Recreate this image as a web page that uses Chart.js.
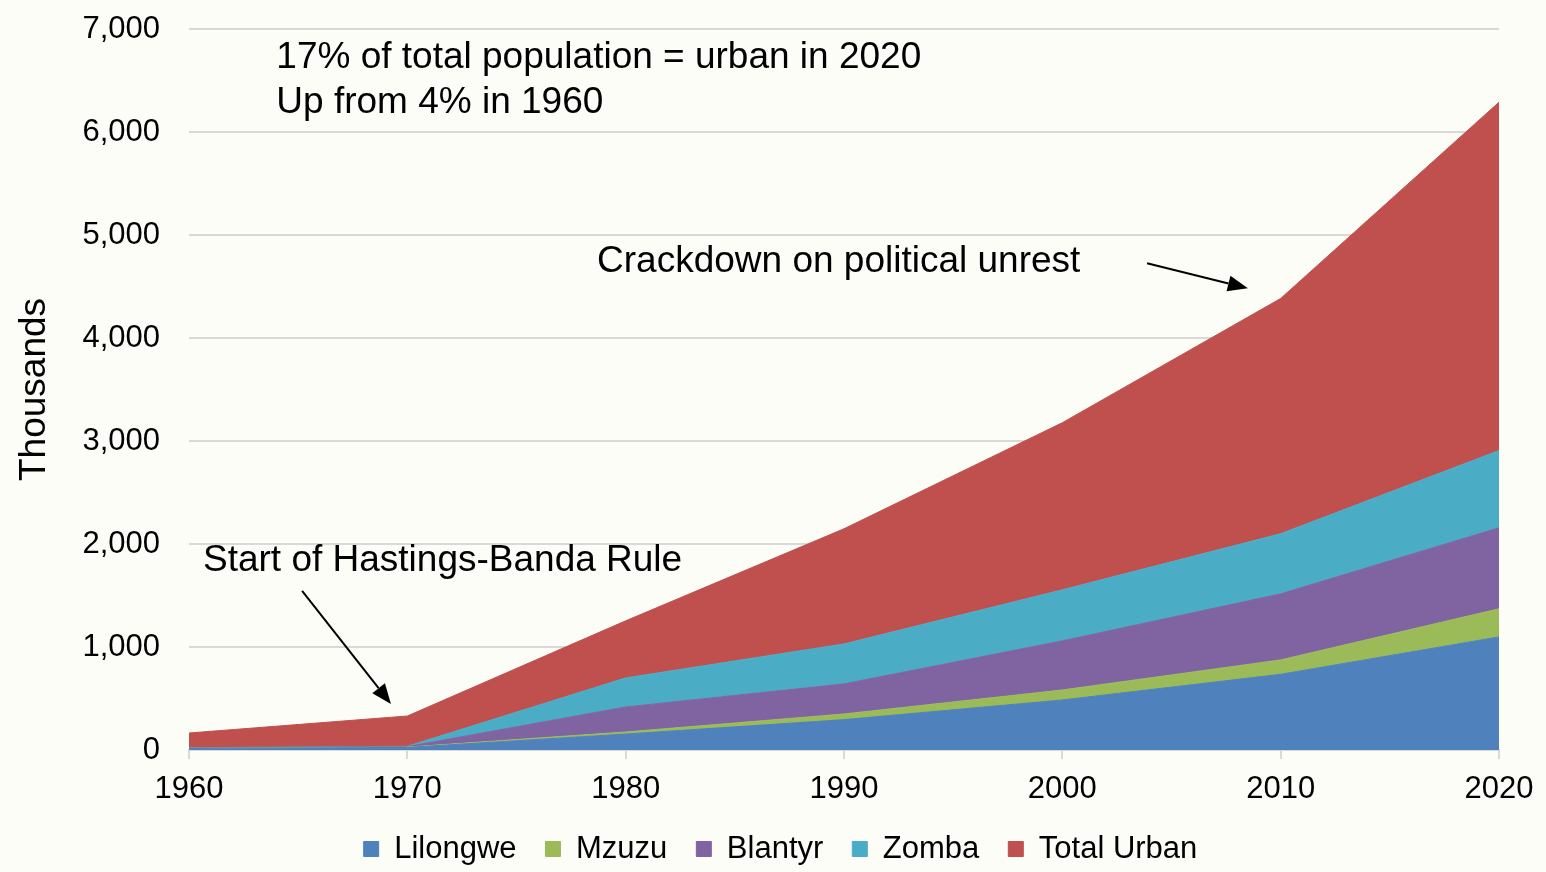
<!DOCTYPE html>
<html>
<head>
<meta charset="utf-8">
<script src="https://cdn.jsdelivr.net/npm/chart.js@4.4.1/dist/chart.umd.min.js"></script>
<style>
    html, body { margin: 0; padding: 0; background: #fdfdf8; }
    #wrap { width: 1546px; height: 872px; }
</style>
</head>
<body>
<div id="wrap"><canvas id="urbanChart" width="1546" height="872"></canvas></div>
<script>
// values in thousands
const years = ['1960', '1970', '1980', '1990', '2000', '2010', '2020'];
const lilongwe = [15, 25, 155, 295, 486, 735, 1098];
const mzuzu = [2, 3, 20, 55, 97, 140, 273];
const blantyr = [3, 5, 243, 292, 477, 641, 787];
const zomba = [2, 3, 282, 388, 495, 584, 749];
const totalUrban = [143, 294, 554, 1118, 1623, 2284, 3383];
const yTicks = [0, 1000, 2000, 3000, 4000, 5000, 6000, 7000];

const FONT = "'Liberation Sans', Arial, sans-serif";

// annotation anchors in data units (x = category index, y = thousands)
const notes = [
    {text: '17% of total population = urban in 2020', x: 0.4, y: 6718},
    {text: 'Up from 4% in 1960', x: 0.4, y: 6280},
    {text: 'Crackdown on political unrest', x: 1.869, y: 4735},
    {text: 'Start of Hastings-Banda Rule', x: 0.064, y: 1837}
];
const arrows = [
    {from: [4.388, 4725], to: [4.85, 4482]},
    {from: [0.518, 1546], to: [0.925, 447]}
];

function area(label, data, color, fill) {
    return {
        label: label,
        data: data,
        backgroundColor: color,
        borderColor: color,
        borderWidth: 1,
        pointRadius: 0,
        pointHoverRadius: 0,
        tension: 0,
        fill: fill
    };
}

const notesPlugin = {
    id: 'notes',
    afterLayout(chart) {
        // legend sits a little right of where chart.js centres it
        chart.legend.left += 31;
        chart.legend.right += 31;
    },
    afterDatasetsDraw(chart) {
        const ctx = chart.ctx;
        const xs = chart.scales.x, ys = chart.scales.y;
        const px = v => xs.left + (xs.right - xs.left) * v / (years.length - 1);
        ctx.save();
        ctx.fillStyle = '#000';
        ctx.font = '37px ' + FONT;
        ctx.textBaseline = 'middle';
        ctx.textAlign = 'left';
        notes.forEach(n => ctx.fillText(n.text, px(n.x), ys.getPixelForValue(n.y)));

        ctx.strokeStyle = '#000';
        ctx.lineWidth = 2;
        arrows.forEach(a => {
            const x1 = px(a.from[0]), y1 = ys.getPixelForValue(a.from[1]);
            const x2 = px(a.to[0]), y2 = ys.getPixelForValue(a.to[1]);
            const ang = Math.atan2(y2 - y1, x2 - x1);
            const len = 20, half = 8;
            const bx = x2 - len * Math.cos(ang), by = y2 - len * Math.sin(ang);
            ctx.beginPath();
            ctx.moveTo(x1, y1);
            ctx.lineTo(bx, by);
            ctx.stroke();
            ctx.beginPath();
            ctx.moveTo(x2, y2);
            ctx.lineTo(bx + half * Math.sin(ang), by - half * Math.cos(ang));
            ctx.lineTo(bx - half * Math.sin(ang), by + half * Math.cos(ang));
            ctx.closePath();
            ctx.fill();
        });
        ctx.restore();
    }
};

const ctx = document.getElementById('urbanChart');
new Chart(ctx, {
    type: 'line',
    data: {
        labels: years,
        datasets: [
            area('Lilongwe', lilongwe, '#4f81bd', 'origin'),
            area('Mzuzu', mzuzu, '#9bbb59', '-1'),
            area('Blantyr', blantyr, '#8064a2', '-1'),
            area('Zomba', zomba, '#4bacc6', '-1'),
            area('Total Urban', totalUrban, '#c0504d', '-1')
        ]
    },
    options: {
        responsive: false,
        animation: false,
        devicePixelRatio: 1,
        layout: {
            padding: {top: 29, left: 0, right: 47, bottom: -2.5}
        },
        scales: {
            x: {
                offset: false,
                grid: {
                    offset: false,
                    drawOnChartArea: false,
                    drawTicks: true,
                    tickLength: 9,
                    color: '#d9d9d9',
                    lineWidth: 2
                },
                border: {display: true, color: '#d9d9d9', width: 2},
                ticks: {
                    color: '#000',
                    font: {family: FONT, size: 31},
                    padding: 12,
                    maxRotation: 0,
                    autoSkip: false
                },
                afterFit(scale) { scale.height = 54.5; }
            },
            y: {
                stacked: true,
                min: 0,
                max: 7000,
                afterBuildTicks(scale) { scale.ticks = yTicks.map(v => ({value: v})); },
                // invisible tick marks give the label gap without padding the top
                grid: {color: '#d9d9d9', lineWidth: 2, drawTicks: true, tickLength: 27, tickColor: 'rgba(0,0,0,0)'},
                border: {display: false},
                ticks: {
                    color: '#000',
                    font: {family: FONT, size: 31},
                    padding: 2,
                    callback: v => v.toLocaleString('en-US')
                },
                title: {
                    display: true,
                    text: 'Thousands',
                    color: '#000',
                    font: {family: FONT, size: 37},
                    padding: {top: 13, bottom: 0}
                },
                afterFit(scale) { scale.width = 189; }
            }
        },
        plugins: {
            legend: {
                display: true,
                position: 'bottom',
                labels: {
                    color: '#000',
                    font: {family: FONT, size: 31},
                    boxWidth: 15,
                    boxHeight: 15,
                    padding: 29
                }
            },
            tooltip: {enabled: false},
            title: {display: false}
        }
    },
    plugins: [notesPlugin]
});
</script>
</body>
</html>
